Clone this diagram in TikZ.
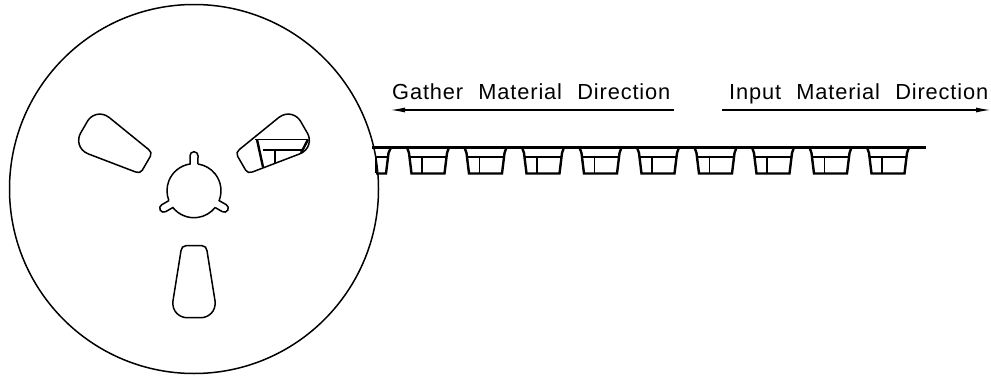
\documentclass[tikz,border=0pt]{standalone}
\usepackage{fontspec}
\setsansfont[LetterSpace=4,WordSpace=2.2]{Liberation Sans}
\usetikzlibrary{arrows.meta,positioning}
\tikzset{
        reel/.style = {draw, line width=1.5pt},
        tape/.style = {draw, line width=2.4pt, line join=miter},
        inner/.style = {draw, line width=1.3pt},
        arrow/.style = {draw, line width=1.4pt, -{Latex[length=15pt,width=5pt]}},
        label/.style = {font=\sffamily\fontsize{21.8}{24}\selectfont, inner sep=0pt, anchor=base west},
    }
\newcommand{\slotpath}{(-8pt,55pt) -- (8pt,55pt) .. controls (11pt,55pt) and (12.5pt,57pt) .. (13pt,60pt)
	-- (21pt,110pt) .. controls (22.5pt,121pt) and (14pt,127pt) .. (7pt,127pt) -- (-7pt,127pt)
	.. controls (-14pt,127pt) and (-22.5pt,121pt) .. (-21pt,110pt) -- (-13pt,60pt)
	.. controls (-12.5pt,57pt) and (-11pt,55pt) .. (-8pt,55pt) -- cycle}
\begin{document}
\begin{tikzpicture}[x=1pt, y=-1pt]
		\useasboundingbox (0,0) rectangle (991,378);
		% reel
		\draw[reel] (194,189) circle (184.5pt);
		\foreach \a in {90,210,330}
			\draw[reel, shift={(194,190.7)}, rotate=\a] (-8.5:27pt) -- (35pt,-4pt)
				arc[start angle=-90, end angle=90, radius=4pt] -- (8.5:27pt)
				arc[start angle=8.5, end angle=111.5, radius=27pt];
		\foreach \a in {0,120,-120}
			\draw[reel, shift={(194,190.7)}, rotate=\a, yscale=-1] \slotpath;
		% pocket seen through the slot
		\draw[inner] (255,139.5) -- (308,139.5);
		\draw[inner] (263,150) -- (302,150);
		\draw[tape] (257,139.5) -- (263,167);
		\draw[inner] (275,150) -- (275,163);
		\draw[tape] (308,139.5) -- (301,153);
		% carrier tape
		\draw[tape] (372,147.5) -- (926,147.5);
		\foreach \px in {428,485.5,543,600.5,658,715.5,773,830.5,888} {
			\draw[tape] (\px-21,147.5) -- (\px-19,153) -- (\px-16.5,173.5) -- (\px+16.5,173.5)
				-- (\px+19,153) -- (\px+21,147.5);
			\draw[inner] (\px-18.5,157) -- (\px+18.5,157);
			\draw[inner] (\px-6,157) -- (\px-6,173);
		}
		\draw[tape] (376,173.5) -- (386,173.5) -- (388.5,153) -- (391,147.5);
		\draw[inner] (376,157) -- (388.5,157);
		\draw[inner] (376,157) -- (376,173);
		% directions
		\node[label] (GatherText) at (392,99) {Gather Material Direction};
		\node[label] (InputText) at (729,99) {Input Material Direction};
		\coordinate (GatherStart) at (674,110);
		\coordinate (GatherEnd) at (390,110);
		\coordinate (InputStart) at (722,110);
		\coordinate (InputEnd) at (991,110);
		\draw[arrow] (GatherStart) -- (GatherEnd);
		\draw[arrow] (InputStart) -- (InputEnd);
\end{tikzpicture}
\end{document}
